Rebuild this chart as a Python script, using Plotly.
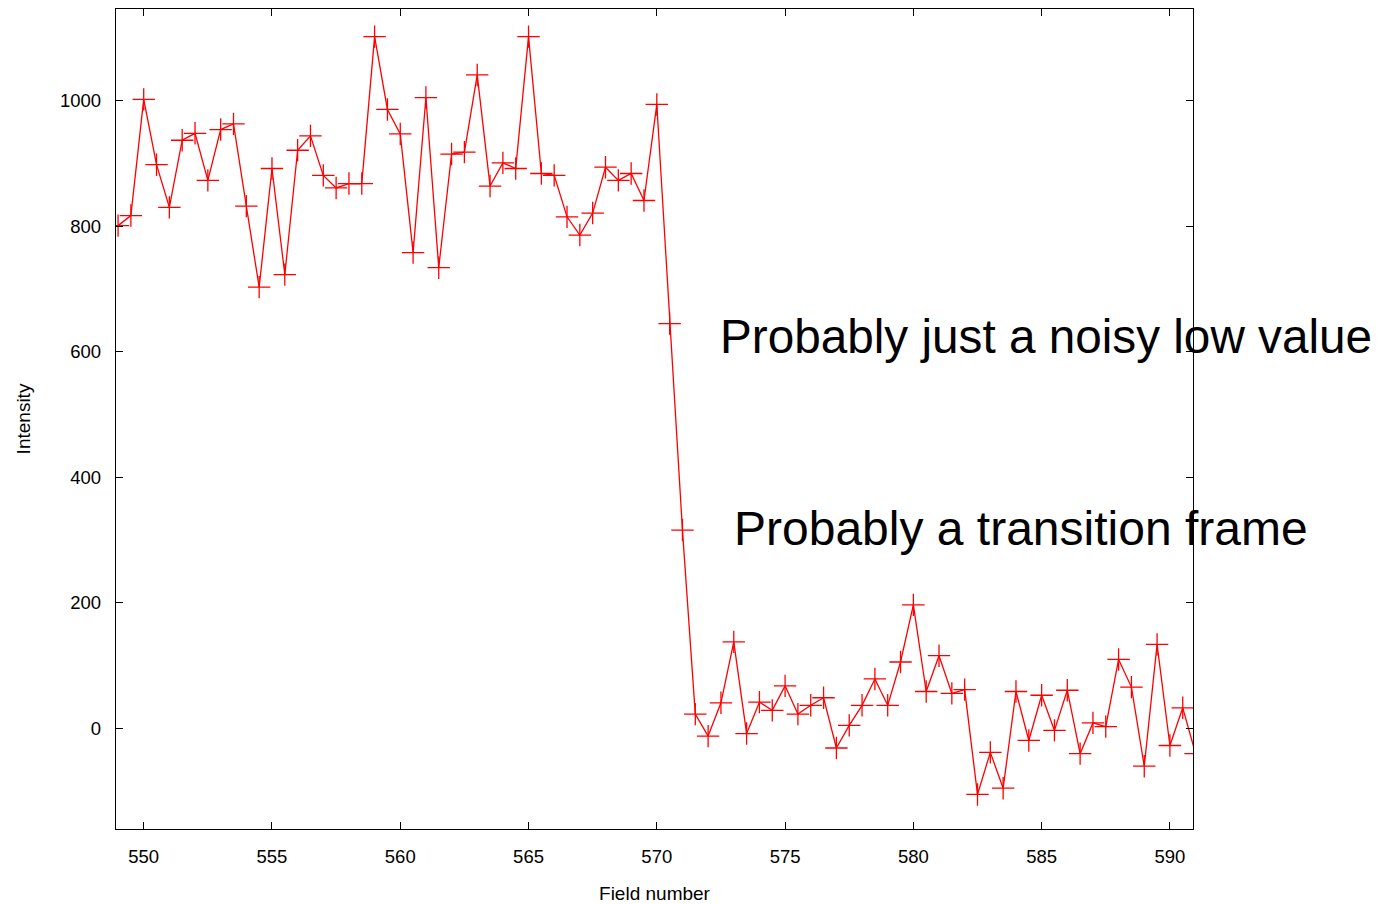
import plotly.graph_objects as go

# Field numbers (half-field steps) and measured intensity per field
field_number = [
    549.0, 549.5, 550.0, 550.5, 551.0, 551.5, 552.0, 552.5, 553.0, 553.5,
    554.0, 554.5, 555.0, 555.5, 556.0, 556.5, 557.0, 557.5, 558.0, 558.5,
    559.0, 559.5, 560.0, 560.5, 561.0, 561.5, 562.0, 562.5, 563.0, 563.5,
    564.0, 564.5, 565.0, 565.5, 566.0, 566.5, 567.0, 567.5, 568.0, 568.5,
    569.0, 569.5, 570.0, 570.5, 571.0, 571.5, 572.0, 572.5, 573.0, 573.5,
    574.0, 574.5, 575.0, 575.5, 576.0, 576.5, 577.0, 577.5, 578.0, 578.5,
    579.0, 579.5, 580.0, 580.5, 581.0, 581.5, 582.0, 582.5, 583.0, 583.5,
    584.0, 584.5, 585.0, 585.5, 586.0, 586.5, 587.0, 587.5, 588.0, 588.5,
    589.0, 589.5, 590.0, 590.5, 591.0,
]
intensity = [
    801, 817, 1002, 898, 830, 937, 948, 873, 954, 963,
    832, 703, 892, 723, 921, 944, 881, 861, 868, 868,
    1102, 986, 947, 758, 1005, 734, 915, 918, 1041, 864,
    901, 892, 1102, 884, 881, 815, 786, 821, 894, 873,
    884, 841, 994, 645, 316, 23, -12, 41, 138, -8,
    42, 29, 68, 23, 37, 49, -31, 5, 37, 79,
    37, 106, 197, 59, 116, 56, 62, -105, -38, -95,
    59, -19, 53, -3, 61, -40, 9, 3, 110, 66,
    -60, 134, -27, 33, -40,
]

x_ticks = [550, 555, 560, 565, 570, 575, 580, 585, 590]
y_ticks = [0, 200, 400, 600, 800, 1000]

notes = ["Probably just a noisy low value", "Probably a transition frame"]

FONT = "Liberation Sans, Arial, sans-serif"

fig = go.Figure()
fig.add_trace(go.Scatter(
    x=field_number,
    y=intensity,
    mode="lines+markers",
    line=dict(color="#ff0000", width=1.3),
    marker=dict(symbol="cross-thin-open", size=16,
                line=dict(color="#ff0000", width=1.3)),
    showlegend=False,
))

axis_common = dict(
    showline=True, linecolor="black", linewidth=1.3, mirror="ticks",
    ticks="inside", ticklen=7, tickwidth=1.3, tickcolor="black",
    showgrid=False, zeroline=False, automargin=False,
    tickfont=dict(family=FONT, size=18.5, color="black"),
    title_font=dict(family=FONT, size=19, color="black"),
)

fig.update_xaxes(
    range=[548.92, 590.9], tickvals=x_ticks,
    title_text="Field number", title_standoff=21,
    ticklabelstandoff=11,
    **axis_common,
)
fig.update_yaxes(
    range=[-160, 1146], tickvals=y_ticks,
    title_text="Intensity", title_standoff=24,
    ticklabelstandoff=10,
    **axis_common,
)

fig.add_annotation(
    text=notes[0], xref="paper", yref="paper", x=0.559, y=0.601,
    xanchor="left", yanchor="middle", showarrow=False,
    font=dict(family=FONT, size=47.7, color="black"),
)
fig.add_annotation(
    text=notes[1], xref="paper", yref="paper", x=0.572, y=0.366,
    xanchor="left", yanchor="middle", showarrow=False,
    font=dict(family=FONT, size=48, color="black"),
)

fig.update_layout(
    width=1382, height=904,
    margin=dict(l=116, r=189, t=9, b=75),
    paper_bgcolor="white", plot_bgcolor="white",
    font=dict(family=FONT, color="black"),
)

fig.write_html("out.html")
